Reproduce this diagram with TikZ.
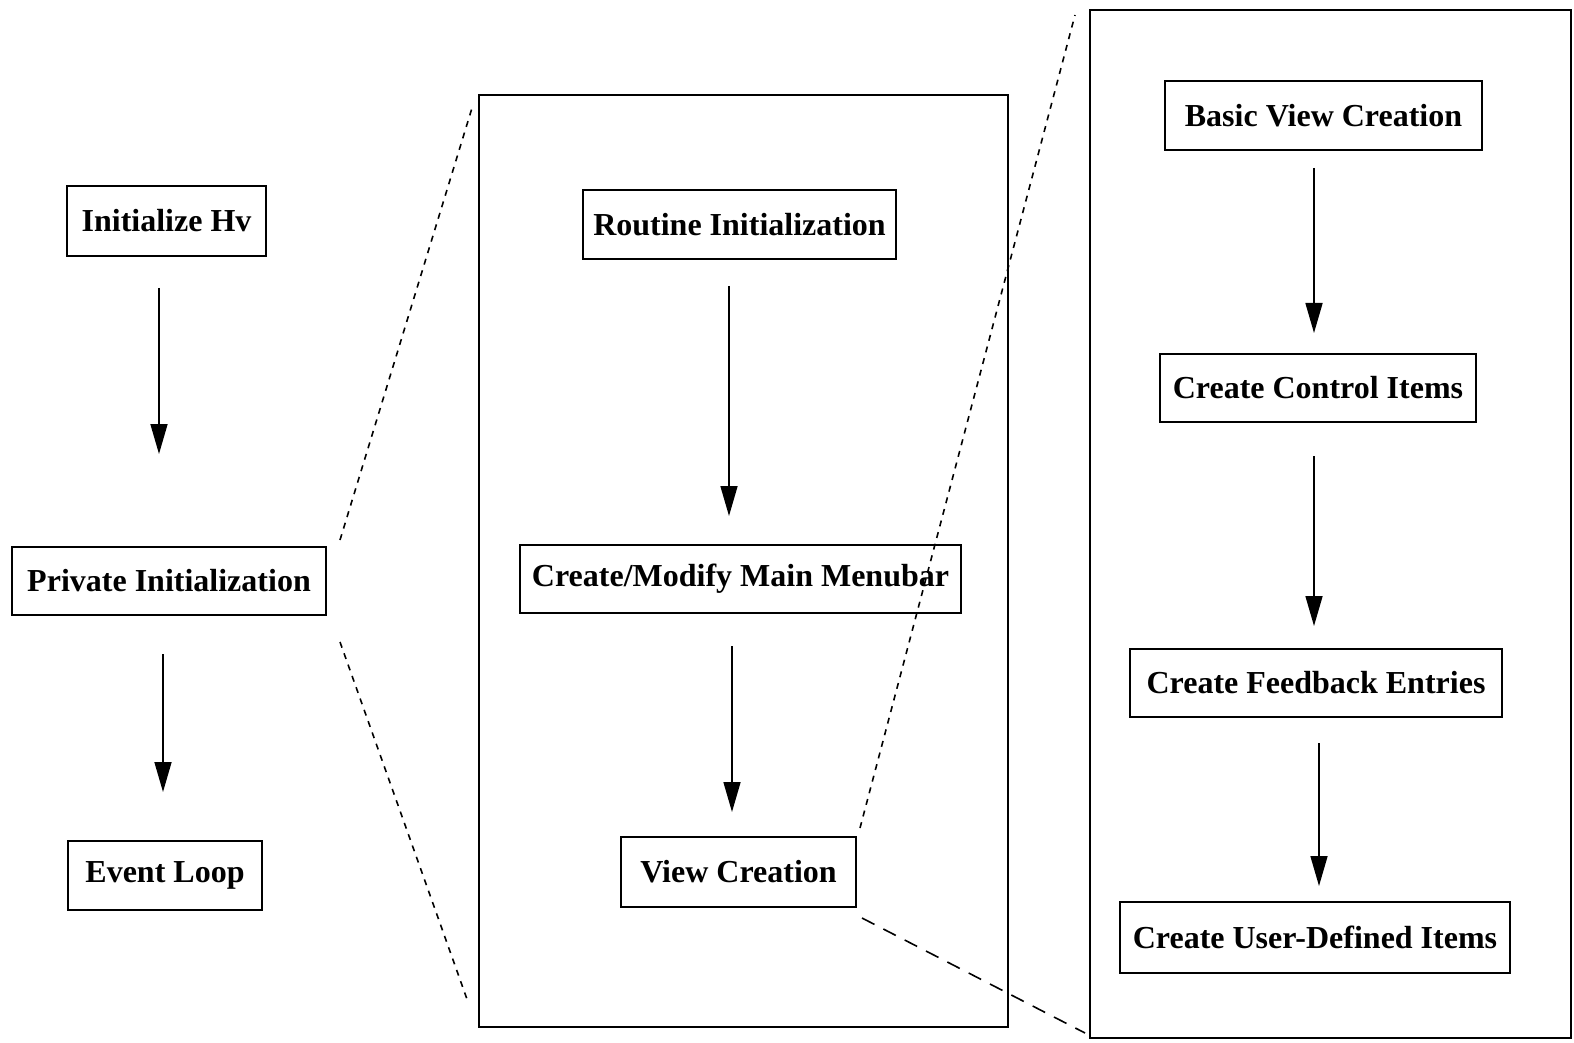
\documentclass[tikz,border=0pt]{standalone}
\usepackage{fontspec}
\setmainfont{Liberation Serif}
\usetikzlibrary{arrows.meta}
\begin{document}
\begin{tikzpicture}[x=0.5pt,y=-0.5pt,
  box/.style={draw,line width=1pt,inner sep=0pt,font=\fontsize{16}{19}\selectfont\bfseries},
  panel/.style={draw,line width=1pt,inner sep=0pt},
  arr/.style={line width=0.8pt,-{Triangle[length=15pt,width=8.5pt]}},
  zoomdot/.style={line width=0.8pt,dash pattern=on 3pt off 3pt},
  zoomdash/.style={line width=0.8pt,dash pattern=on 7pt off 5pt}]
\useasboundingbox (0,0) rectangle (1574,1043);
% panels
\node[panel,minimum width=264.5pt,minimum height=466pt] (mid) at (743.5,561) {};
\node[panel,minimum width=240.5pt,minimum height=514pt] (right) at (1330.5,524) {};
% left column
\node[box,minimum width=99.5pt,minimum height=35pt] (IH) at (166.5,221) {Initialize Hv};
\node[box,minimum width=157pt,minimum height=34pt] (PI) at (169,581) {Private Initialization};
\node[box,minimum width=97pt,minimum height=34.5pt] (EL) at (165,875.5) {Event Loop};
% middle column
\node[box,minimum width=156.5pt,minimum height=34.5pt] (RI) at (739.5,224.5) {Routine Initialization};
\node[box,minimum width=220.5pt,minimum height=34pt] (CM) at (740.5,579) {Create/Modify Main Menubar};
\node[box,minimum width=117.5pt,minimum height=35pt] (VC) at (738.5,872) {View Creation};
% right column
\node[box,minimum width=158.5pt,minimum height=34.5pt] (BV) at (1323.5,115.5) {Basic View Creation};
\node[box,minimum width=158pt,minimum height=34pt] (CC) at (1318,388) {Create Control Items};
\node[box,minimum width=186pt,minimum height=34pt] (CF) at (1316,683) {Create Feedback Entries};
\node[box,minimum width=195pt,minimum height=35.5pt] (CU) at (1315,937.5) {Create User-Defined Items};
% arrows
\draw[arr,shorten <=15.5pt,shorten >=46pt] ([xshift=-3.75pt]IH.south) -- ([xshift=-5pt]PI.north);
\draw[arr,shorten <=19pt,shorten >=24pt] ([xshift=-3pt]PI.south) -- ([xshift=-1pt]EL.north);
\draw[arr,shorten <=13pt,shorten >=14pt] ([xshift=-5.25pt]RI.south) -- ([xshift=-5.75pt]CM.north);
\draw[arr,shorten <=16pt,shorten >=12pt] ([xshift=-4.25pt]CM.south) -- ([xshift=-3.25pt]VC.north);
\draw[arr,shorten <=8.5pt,shorten >=10pt] ([xshift=-4.75pt]BV.south) -- ([xshift=-2pt]CC.north);
\draw[arr,shorten <=16.5pt,shorten >=11pt] ([xshift=-2pt]CC.south) -- ([xshift=-1pt]CF.north);
\draw[arr,shorten <=12.5pt,shorten >=7.5pt] ([xshift=1.5pt]CF.south) -- ([xshift=2pt]CU.north);
% zoom lines
\coordinate (a1) at (340,540); \coordinate (b1) at (472,108);
\coordinate (a2) at (340,642); \coordinate (b2) at (468,1002);
\coordinate (a3) at (860,828); \coordinate (b3) at (1075,15);
\coordinate (a4) at (862,918); \coordinate (b4) at (1085,1033);
\draw[zoomdot] (a1) -- (b1);
\draw[zoomdot] (a2) -- (b2);
\draw[zoomdot] (a3) -- (b3);
\draw[zoomdash] (a4) -- (b4);
\end{tikzpicture}
\end{document}
